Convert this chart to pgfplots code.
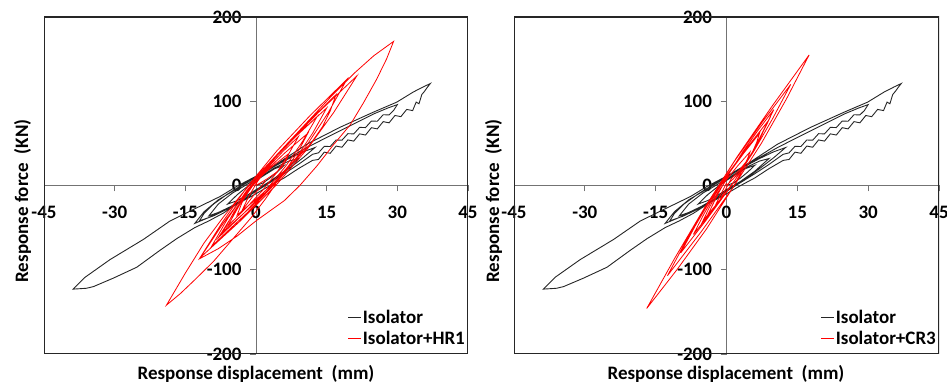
\documentclass[border=0pt]{standalone}
\usepackage{fontspec}
\setmainfont{Carlito}
\usepackage{pgfplots}
\usepackage{pgfplotstable}
\pgfplotsset{compat=1.18}

% Isolator (same in both panels)
\pgfplotstableread{
x y
0 0
1.5 3
3 9
4.5 16
6 24
4 20
2 13
0 6
-2 -2
-4 -11
-6 -22
-4 -18
-2 -12
0 -5
3 5
6 17
9 32
7 29
4 21
1 11
-2 1
-5 -9
-8 -22
-10 -36
-8 -32
-5 -24
-2 -14
1 -3
4 8
7 20
10 33
12.5 45
10 40
7 32
4 23
1 13
-2 3
-5 -7
-8 -17
-11 -31
-13 -45
-10 -38
-6 -27
-2 -14
2 0
6 14
9 25
12 37
13.25 38.75
14.5 46.5
15.75 46.25
17 54
18.25 53.75
19.5 61.5
20.75 61.25
22 69
23.25 68.75
24.5 76.5
25.75 76.25
27 84
28.25 83.75
29.2 89
30 96
28 92
25 85
20 71
15 57
10.8 45
6 30
2 17
-2 4
-6 -10
-9 -22
-11 -33
-12 -42
-9 -36
-5 -25
-1 -13
3 0
6 9
9 20
12 29.8
13.25 30.9
14.5 39.6
15.75 38.2
17 46.8
18.25 45.4
19.5 54.1
20.75 52.7
22 61.3
23.25 59.9
24.5 68.6
25.75 67.2
27 75.8
28.25 74.4
29.5 83.1
30.75 81.7
32 90.3
33.25 88.9
34 99
34.6 97
35.2 108
35.8 112
36.3 116
37 121
35.5 117
33.4 111
29.9 99
24.9 87
17.8 69
10.8 49
3.7 23
0 11
-4.1 -1
-7.6 -13
-13.3 -28.5
-18.3 -42.3
-23.9 -64
-31 -88
-36.3 -109
-38.8 -123
-36 -122
-34.5 -120
-30.3 -110
-25.3 -97
-20.4 -77
-16.8 -63
-13 -50
-10 -42
-7 -33
-4 -22
-1 -12
}\isodata

% Isolator+HR1
\pgfplotstableread{
x y
0 0
2.29 7.6
4.23 15.2
5.63 22.8
6.49 30.4
7 38
3.62 23.4
0.7 8.8
-1.5 -5.8
-2.98 -20.4
-4 -35
0.18 -15.6
3.9 3.8
6.9 23.2
9.18 42.6
11 62
6.1 38.6
1.71 15.2
-1.89 -8.2
-4.7 -31.6
-7 -55
-1.12 -25.6
4.18 3.8
8.58 33.2
12.08 62.6
15 92
8.64 59.2
2.86 26.4
-2.02 -6.4
-6 -39.2
-9.4 -72
-1.89 -32.4
4.93 7.2
10.67 46.8
15.33 86.4
19.3 126
11.58 83.6
4.44 41.2
-1.8 -1.2
-7.14 -43.6
-11.9 -86
-3.47 -42.8
4.27 0.4
10.93 43.6
16.51 86.8
21.4 130
13.24 86.6
5.66 43.2
-1.02 -0.2
-6.8 -43.6
-12 -87
-8 -75
-4 -60
0 -42
3 -30
6 -18
9.3 0
12.9 23
16.4 48
20 72
22.8 98
25.6 126
27.7 150
29.2 171
25 154
21 134
16 106
11 76
6 46
1 16
-3 -10
-7 -38
-11 -68
-15 -104
-19 -142
-16 -128
-13 -112
-9 -90
-5 -64
-1 -38
2 -16
4 0
5 12
8.58 31.2
11.7 50.4
14.1 69.6
15.78 88.8
17 108
10.82 74
5.1 40
0.1 6
-4.18 -28
-8 -62
-2.62 -33.2
2.3 -4.4
6.5 24.4
9.98 53.2
13 82
8.02 56
3.5 30
-0.3 4
-3.38 -22
-6 -48
-2.11 -26.8
1.43 -5.6
4.43 15.6
6.89 36.8
9 58
5.71 40.4
2.77 22.8
0.37 5.2
-1.49 -12.4
-3 -30
0 -8
2 5
}\hrdata

% Isolator+CR3
\pgfplotstableread{
x y
0 0
1.47 8
2.76 16
3.76 24
4.47 32
5 40
2.41 23.6
0.05 7.2
-1.95 -9.2
-3.59 -25.6
-5 -42
-1.49 -18
1.74 6
4.54 30
6.91 54
9 78
4.55 46.4
0.38 14.8
-3.36 -16.8
-6.67 -48.4
-9.7 -80
-4.15 -40
1.05 0
5.71 40
9.83 80
13.6 120
7.49 74.6
1.73 29.2
-3.49 -16.2
-8.17 -61.6
-12.5 -107
-5.32 -54.6
1.4 -2.2
7.4 50.2
12.68 102.6
17.5 155
9.73 94.8
2.31 34.6
-4.57 -25.6
-10.91 -85.8
-16.9 -146
-10.34 -98.8
-4.24 -51.6
1.14 -4.4
5.8 42.8
10 90
6.61 65
3.45 40
0.65 15
-1.79 -10
-4 -35
-1.5 -18
1 8
2.79 18.8
4.35 29.6
5.55 40.4
6.39 51.2
7 62
3.61 38
0.45 14
-2.35 -10
-4.79 -34
-7 -58
-2.7 -27.5
0 3
}\crdata

\newcommand{\bigfont}{\bfseries\fontsize{19}{22}\selectfont}

\pgfplotsset{
  hyst/.style={
    scale only axis, height=337pt,
    xmin=-45, xmax=45, ymin=-200, ymax=200,
    axis lines=middle,
    axis line style={-, black!55, line width=0.8pt},
    xtick={-45,-30,-15,0,15,30,45},
    xticklabels={-45,-30,-15,0,15,30,45},
    ytick={-200,-100,0,100,200},
    yticklabels={-200,-100,0,100,200},
    hide obscured x ticks=false, hide obscured y ticks=false,
    tick align=outside, major tick length=6pt,
    tick style={black!55, line width=0.8pt},
    ticklabel style={font=\bigfont},
    xticklabel style={yshift=-11pt},
    yticklabel style={xshift=-5pt},
    legend style={at={(1,0.015)}, anchor=south east, draw=none, fill=none,
      inner sep=2pt, row sep=4pt,
      nodes={inner sep=1pt, font=\bigfont}},
    legend cell align=left,
    legend image code/.code={\draw[##1] (0pt,0pt) -- (13pt,0pt);},
  }
}

\begin{document}
\begin{tikzpicture}
\begin{axis}[hyst, at={(44pt,33pt)}, anchor=south west, width=424pt]
  \addplot[black!85, line width=0.9pt] table[x=x,y=y] {\isodata};
  \addplot[red, line width=0.8pt] table[x=x,y=y] {\hrdata};
  \legend{Isolator, Isolator+HR1}
  \draw[black!85, line width=1.2pt] (rel axis cs:0,0) rectangle (rel axis cs:1,1);
\end{axis}
\begin{axis}[hyst, at={(514pt,33pt)}, anchor=south west, width=425pt]
  \addplot[black!85, line width=0.9pt] table[x=x,y=y] {\isodata};
  \addplot[red, line width=0.8pt] table[x=x,y=y] {\crdata};
  \legend{Isolator, Isolator+CR3}
  \draw[black!85, line width=1.2pt] (rel axis cs:0,0) rectangle (rel axis cs:1,1);
\end{axis}
\node[font=\bigfont, anchor=base] at (256pt,7pt) {Response displacement\ \ (mm)};
\node[font=\bigfont, anchor=base] at (726pt,7pt) {Response displacement\ \ (mm)};
\node[font=\bigfont, anchor=base, rotate=90] at (28pt,186pt) {Response force\ \ (KN)};
\node[font=\bigfont, anchor=base, rotate=90] at (499pt,186pt) {Response force\ \ (KN)};
\pgfresetboundingbox
\path[use as bounding box] (0,0) rectangle (947pt,387pt);
\end{tikzpicture}
\end{document}
